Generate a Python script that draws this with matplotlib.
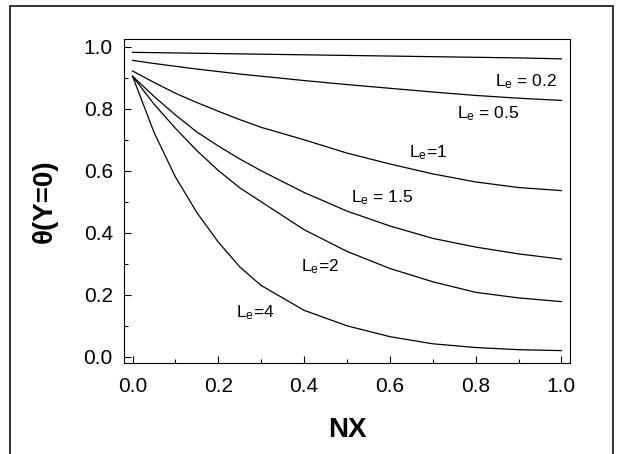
import numpy as np
import matplotlib
matplotlib.use("Agg")
from matplotlib import pyplot as plt
from matplotlib.patches import Rectangle
from matplotlib.ticker import MultipleLocator, FormatStrFormatter

plt.rcParams['font.family'] = ['Liberation Sans', 'DejaVu Sans']
plt.rcParams['mathtext.fontset'] = 'custom'
plt.rcParams['mathtext.rm'] = 'Liberation Sans'
plt.rcParams['mathtext.it'] = 'Liberation Sans'

# surface temperature along the plate for several Lewis numbers
nx = [0.0, 0.05, 0.1, 0.15, 0.2, 0.25, 0.3, 0.4, 0.5, 0.6, 0.7, 0.8, 0.9, 1.0]
theta_le02 = [0.982, 0.981, 0.980, 0.979, 0.978, 0.977, 0.976, 0.974, 0.972, 0.970, 0.968, 0.966, 0.964, 0.961]
theta_le05 = [0.956, 0.946, 0.937, 0.928, 0.920, 0.912, 0.905, 0.891, 0.878, 0.866, 0.854, 0.843, 0.834, 0.827]
theta_le1 = [0.922, 0.885, 0.850, 0.820, 0.792, 0.765, 0.740, 0.700, 0.657, 0.622, 0.590, 0.564, 0.546, 0.536]
theta_le15 = [0.905, 0.840, 0.780, 0.725, 0.680, 0.638, 0.600, 0.530, 0.470, 0.422, 0.382, 0.354, 0.332, 0.315]
theta_le2 = [0.905, 0.815, 0.737, 0.665, 0.601, 0.545, 0.500, 0.410, 0.340, 0.285, 0.242, 0.208, 0.190, 0.178]
theta_le4 = [0.905, 0.724, 0.580, 0.465, 0.370, 0.290, 0.230, 0.150, 0.100, 0.065, 0.042, 0.030, 0.023, 0.020]

curves = [theta_le02, theta_le05, theta_le1, theta_le15, theta_le2, theta_le4]
labels = [r'L$_\mathregular{e}$ = 0.2', r'L$_\mathregular{e}$ = 0.5', r'L$_\mathregular{e}$=1',
          r'L$_\mathregular{e}$ = 1.5', r'L$_\mathregular{e}$=2', r'L$_\mathregular{e}$=4']
label_xy = [(0.918, 0.886), (0.829, 0.784), (0.689, 0.657), (0.583, 0.512), (0.438, 0.291), (0.285, 0.142)]

fig = plt.figure(figsize=(6.18, 4.54), dpi=100)
ax = fig.add_axes([0.2006, 0.2004, 0.7217, 0.7137])

for y in curves:
    ax.plot(nx, y, color='black', lw=0.9)

for txt, (tx, ty) in zip(labels, label_xy):
    ax.text(tx, ty, txt, ha='center', va='center', fontsize=12.5)

ax.set_xlim(-0.02, 1.02)
ax.set_ylim(-0.02, 1.025)
ax.xaxis.set_major_locator(MultipleLocator(0.2))
ax.yaxis.set_major_locator(MultipleLocator(0.2))
ax.xaxis.set_minor_locator(MultipleLocator(0.1))
ax.yaxis.set_minor_locator(MultipleLocator(0.1))
ax.xaxis.set_major_formatter(FormatStrFormatter('%.1f'))
ax.yaxis.set_major_formatter(FormatStrFormatter('%.1f'))
ax.tick_params(which='both', direction='in', top=False, right=False, labelsize=15)
ax.tick_params(which='major', length=5, width=0.8)
ax.tick_params(which='minor', length=3, width=0.8)
ax.tick_params(axis='x', pad=10)
ax.tick_params(axis='y', pad=8)
for s in ax.spines.values():
    s.set_linewidth(0.8)

ax.set_xlabel('NX', fontsize=20, fontweight='bold', va='center')
ax.set_ylabel('θ(Y=0)', fontsize=20, fontweight='bold', va='center')
ax.xaxis.set_label_coords(0.5, -0.207)
ax.yaxis.set_label_coords(-0.177, 0.5)

# outer box, open at the bottom
fig.patches.append(Rectangle((10 / 618, -0.05), 603 / 618, 1.05 - 6 / 454, transform=fig.transFigure,
                             fill=False, edgecolor='#222222', lw=1.3))

fig.savefig('out.png', dpi=100)
